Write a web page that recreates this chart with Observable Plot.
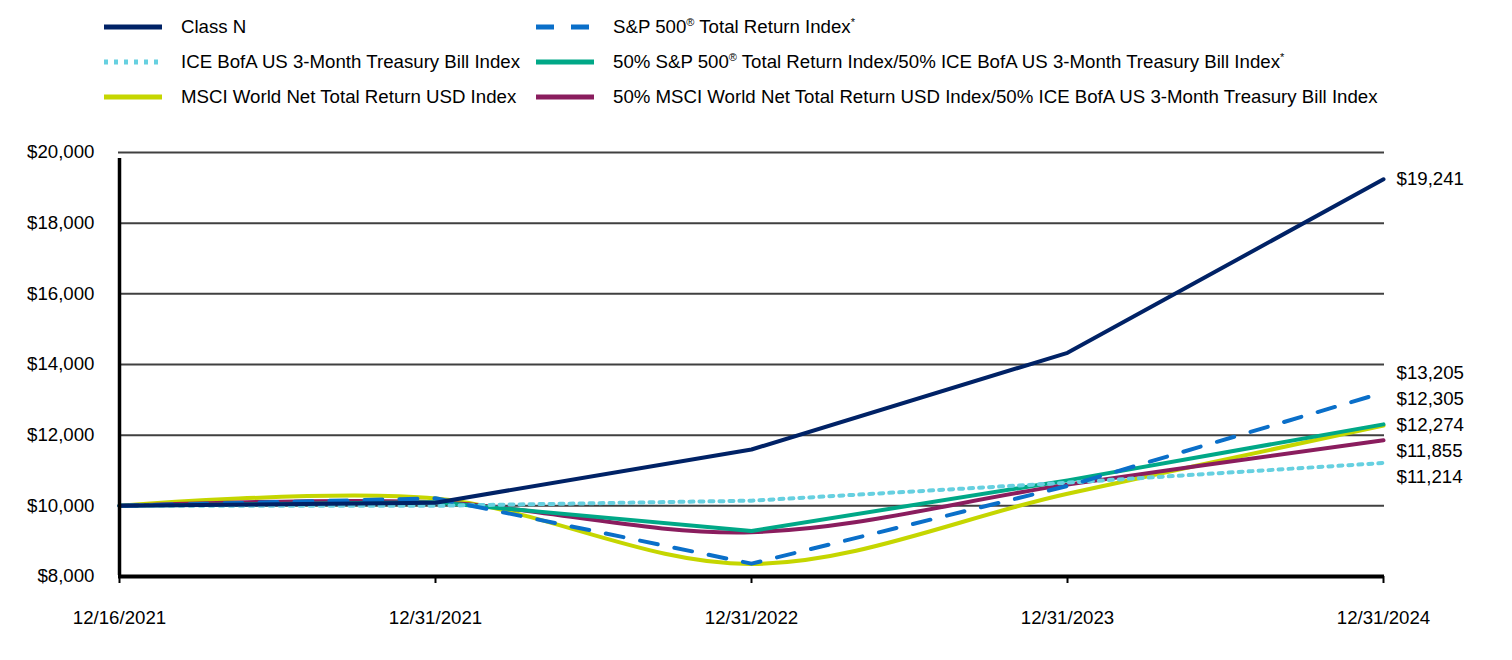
<!DOCTYPE html>
<html><head><meta charset="utf-8">
<script src="https://cdn.jsdelivr.net/npm/d3@7"></script>
<script src="https://cdn.jsdelivr.net/npm/@observablehq/plot@0.6"></script>
<style>
body{margin:0;background:#fff;font-family:"Liberation Sans",Arial,sans-serif;}
#legend{position:relative;height:120px;width:1512px;}
.item{position:absolute;display:flex;align-items:center;font-size:18.67px;color:#000;white-space:nowrap;height:24px;line-height:24px;}
.item svg{margin-right:19px;flex:none}
sup{font-size:11px;line-height:0;position:relative;top:-7px;vertical-align:baseline}
</style></head><body>
<div id="legend"></div><div id="chart"></div>
<script>
// ---- data ----
const dates = ["12/16/2021","12/31/2021","12/31/2022","12/31/2023","12/31/2024"];
const seriesNames = [
  "Class N",
  "S&P 500® Total Return Index*",
  "ICE BofA US 3-Month Treasury Bill Index",
  "50% S&P 500® Total Return Index/50% ICE BofA US 3-Month Treasury Bill Index*",
  "MSCI World Net Total Return USD Index",
  "50% MSCI World Net Total Return USD Index/50% ICE BofA US 3-Month Treasury Bill Index"
];
const legendHtml = [
  "Class N",
  "S&amp;P 500<sup>®</sup> Total Return Index<sup>*</sup>",
  "ICE BofA US 3-Month Treasury Bill Index",
  "50% S&amp;P 500<sup>®</sup> Total Return Index/50% ICE BofA US 3-Month Treasury Bill Index<sup>*</sup>",
  "MSCI World Net Total Return USD Index",
  "50% MSCI World Net Total Return USD Index/50% ICE BofA US 3-Month Treasury Bill Index"
];
const classN   = [10000, 10090, 11594, 14331, 19241];
const sp500    = [10000, 10213,  8364, 10562, 13205];
const tbill    = [10000, 10001, 10146, 10655, 11214];
const sp5050   = [10000, 10100,  9290, 10720, 12305];
const msci     = [10000, 10207,  8355, 10343, 12274];
const msci5050 = [10000, 10100,  9254, 10600, 11855];
const yTicks = [8000, 10000, 12000, 14000, 16000, 18000, 20000];

// ---- styles ----
const colors = ["#002266", "#0a6fc9", "#66d0e0", "#00a887", "#c5d600", "#8a1d5e"];
const dashes = [null, "18,17", "4,6", null, null, null];
const curves = ["linear", "linear", "linear", "linear", "catmull-rom", "catmull-rom"];
const values = [classN, sp500, tbill, sp5050, msci, msci5050];
const drawOrder = [4, 5, 3, 2, 1, 0];
const FS = 18.67;

// ---- legend ----
const legend = document.getElementById("legend");
const cols = [104, 536], rows = [27, 62, 97];
seriesNames.forEach((name, i) => {
  const d = document.createElement("div");
  d.className = "item";
  d.style.left = cols[i % 2] + "px";
  d.style.top = (rows[Math.floor(i / 2)] - 12) + "px";
  const dash = dashes[i] ? `stroke-dasharray="${dashes[i]}"` : "";
  d.innerHTML = `<svg width="58" height="10"><line x1="0" x2="58" y1="5" y2="5" stroke="${colors[i]}" stroke-width="5" ${dash}/></svg><span>${legendHtml[i]}</span>`;
  legend.appendChild(d);
});

// ---- chart ----
const W = 1512, H = 540, mT = 32, mB = 84, mL = 118, mR = 128;
const rows2 = [];
values.forEach((arr, s) => arr.forEach((v, j) => rows2.push({series: s, date: dates[j], value: v})));

const yS = Plot.scale({y: {domain: [8000, 20000], range: [H - mB, mT]}});
// end labels, dodged vertically (cluster merge)
const ends = values.map((arr, s) => ({s, v: arr[arr.length - 1], py: yS.apply(arr[arr.length - 1])}));
const gap = 26;
let clusters = [...ends].sort((a, b) => a.py - b.py).map(e => ({items: [e]}));
const place = c => {
  const m = d3.mean(c.items, e => e.py);
  c.top = m - (c.items.length - 1) / 2 * gap;
  c.bottom = c.top + (c.items.length - 1) * gap;
};
clusters.forEach(place);
let merged = true;
while (merged) {
  merged = false;
  for (let i = 0; i < clusters.length - 1; i++) {
    if (clusters[i + 1].top - clusters[i].bottom < gap) {
      clusters[i].items.push(...clusters[i + 1].items);
      clusters.splice(i + 1, 1);
      place(clusters[i]);
      merged = true;
      break;
    }
  }
}
clusters.forEach(c => c.items.forEach((e, k) => {
  const shift = c.items.length > 1 ? -4 : 0;
  e.dy = c.top + k * gap + shift - e.py;
}));

const marks = [
  Plot.ruleY(yTicks.filter(t => t > 8000), {stroke: "#404040", strokeWidth: 2}),
  ...drawOrder.map(s => Plot.line(rows2.filter(r => r.series === s), {
    x: "date", y: "value", stroke: colors[s], strokeWidth: 4,
    strokeDasharray: dashes[s] || undefined, curve: curves[s]
  })),
  Plot.ruleX([dates[0]], {y1: 8000, y2: 20000, stroke: "#000", strokeWidth: 3.5, insetBottom: -6, insetTop: -1}),
  Plot.ruleY([8000], {stroke: "#000", strokeWidth: 4}),
  Plot.axisX({tickSize: 7, tickPadding: 27, stroke: "#000", strokeWidth: 2, fill: "#000", fontSize: FS, label: null}),
  Plot.axisY({ticks: yTicks, tickSize: 0, tickPadding: 24, tickFormat: d3.format("$,.0f"), fill: "#000", fontSize: FS, label: null}),
  ...ends.map(e => Plot.text([e], {
    x: () => dates[dates.length - 1], y: "v", text: d => d3.format("$,.0f")(d.v),
    dx: 13, dy: e.dy, textAnchor: "start", fill: "#000", fontSize: FS
  }))
];

const chart = Plot.plot({
  width: W, height: H, marginTop: mT, marginBottom: mB, marginLeft: mL, marginRight: mR,
  x: {type: "point", domain: dates, padding: 0, label: null},
  y: {domain: [8000, 20000], label: null},
  style: {fontFamily: "'Liberation Sans', Arial, sans-serif", fontSize: FS + "px", background: "#fff", color: "#000"},
  marks
});
document.getElementById("chart").appendChild(chart);
</script>
</body></html>
